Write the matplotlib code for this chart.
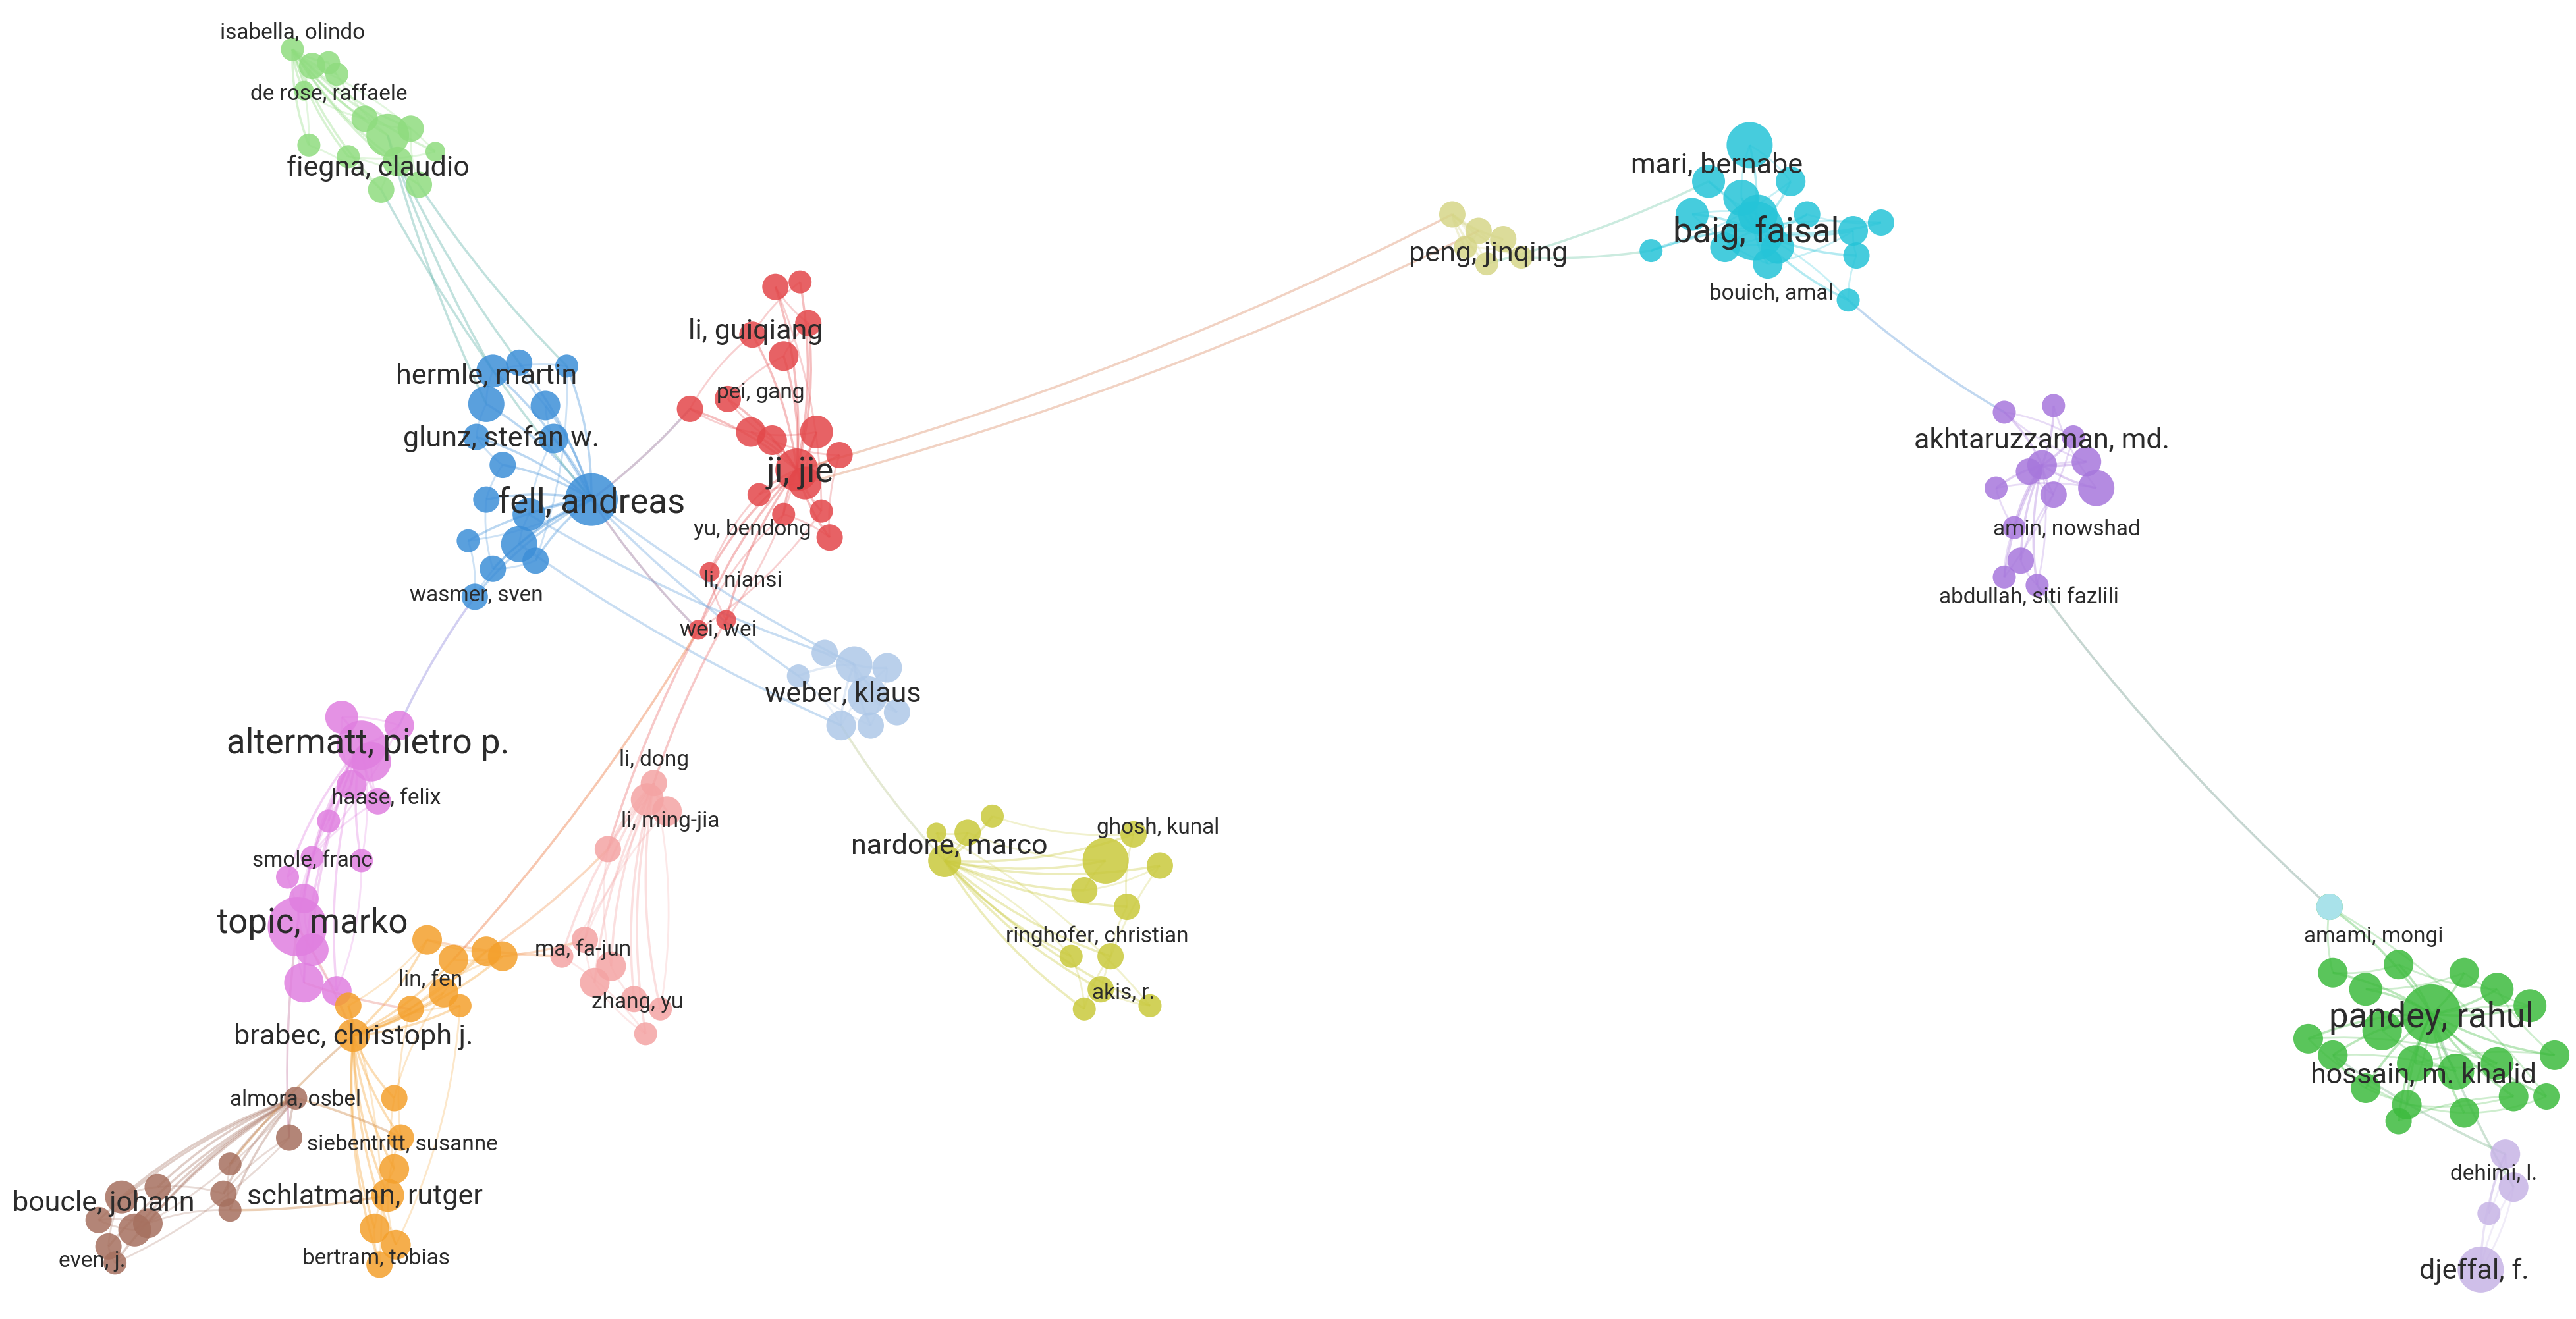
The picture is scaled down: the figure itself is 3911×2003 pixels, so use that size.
import numpy as np
import matplotlib.pyplot as plt
from matplotlib.path import Path
from matplotlib.patches import PathPatch

plt.rcParams['font.family'] = ['Roboto', 'DejaVu Sans']

# clusters: colour, node x, node y, node radius (px on a 1568x800 canvas)
clusters = {
    'lightgreen': ('#8fdc7f',
                   [178, 190, 200, 185, 205, 222, 236, 250, 242, 255, 232, 212, 188, 265],
                   [30, 40, 38, 55, 45, 72, 82, 78, 98, 112, 115, 95, 88, 92],
                   [7, 8, 7, 6, 7, 8, 13, 8, 9, 8, 8, 7, 7, 6]),
    'blue': ('#3d8fd8',
             [360, 300, 316, 296, 332, 290, 337, 306, 322, 296, 316, 300, 289, 326, 285, 345],
             [303, 225, 220, 245, 246, 265, 266, 282, 312, 303, 330, 345, 362, 340, 328, 222],
             [16, 10, 8, 11, 9, 8, 9, 8, 10, 8, 11, 8, 8, 8, 7, 7]),
    'red': ('#e3474a',
            [485, 472, 487, 492, 458, 477, 420, 443, 457, 470, 497, 511, 490, 505, 462, 477, 432, 425, 442, 500],
            [285, 174, 171, 196, 203, 216, 248, 242, 262, 267, 262, 276, 293, 326, 300, 312, 347, 382, 376, 310],
            [13, 8, 7, 8, 8, 9, 8, 8, 9, 9, 10, 8, 10, 8, 7, 7, 6, 6, 6, 7]),
    'lightblue': ('#aec8e8',
                  [520, 540, 528, 512, 546, 486, 502, 530],
                  [403, 405, 422, 440, 432, 410, 396, 440],
                  [11, 9, 12, 9, 8, 7, 8, 8]),
    'olive': ('#c9c93c',
              [575, 589, 604, 673, 690, 660, 686, 706, 676, 670, 660, 700, 652, 570],
              [522, 505, 495, 522, 506, 540, 550, 525, 580, 600, 612, 610, 580, 505],
              [10, 8, 7, 14, 8, 8, 8, 8, 8, 8, 7, 7, 7, 6]),
    'magenta': ('#e07fe0',
                [220, 208, 226, 214, 230, 200, 190, 185, 181, 190, 185, 205, 175, 220, 243],
                [452, 435, 462, 476, 486, 498, 520, 545, 562, 576, 596, 601, 532, 522, 440],
                [15, 10, 12, 9, 8, 7, 7, 9, 18, 10, 12, 9, 7, 7, 9]),
    'orange': ('#f4a02c',
               [215, 260, 276, 296, 306, 270, 250, 240, 244, 240, 236, 228, 241, 231, 280, 212],
               [628, 570, 582, 577, 580, 602, 612, 666, 690, 709, 725, 745, 755, 767, 610, 610],
               [10, 9, 9, 9, 9, 9, 8, 8, 8, 9, 10, 9, 9, 8, 7, 8]),
    'pink': ('#f4a4a4',
             [398, 394, 406, 370, 356, 372, 362, 386, 393, 402, 342],
             [475, 485, 492, 515, 570, 586, 596, 606, 627, 612, 580],
             [8, 10, 9, 8, 8, 9, 9, 8, 7, 7, 7]),
    'brown': ('#a6705f',
              [180, 176, 140, 136, 140, 96, 90, 74, 60, 66, 82, 70],
              [666, 690, 706, 724, 734, 720, 742, 726, 740, 756, 746, 766],
              [7, 8, 7, 8, 7, 8, 9, 10, 8, 8, 10, 7]),
    'khaki': ('#d6d688',
              [884, 900, 915, 926, 905, 892],
              [130, 140, 145, 156, 160, 150],
              [8, 8, 8, 7, 7, 7]),
    'cyan': ('#25c4d8',
             [1068, 1065, 1040, 1060, 1070, 1082, 1030, 1050, 1076, 1100, 1128, 1145, 1130, 1005, 1125, 1090],
             [140, 88, 110, 120, 130, 150, 130, 150, 160, 130, 140, 135, 155, 152, 182, 110],
             [18, 14, 10, 11, 12, 10, 10, 9, 9, 8, 9, 8, 8, 7, 7, 9]),
    'purple': ('#a777dc',
               [1243, 1220, 1250, 1270, 1276, 1235, 1215, 1250, 1226, 1230, 1220, 1240, 1262],
               [282, 250, 246, 280, 296, 286, 296, 300, 320, 340, 350, 355, 265],
               [9, 7, 7, 9, 11, 8, 7, 8, 7, 8, 7, 7, 7]),
    'green': ('#3dbb3e',
              [1480, 1420, 1440, 1460, 1500, 1520, 1540, 1555, 1450, 1470, 1495, 1520, 1420, 1405, 1440, 1465, 1500, 1530, 1550, 1460, 1418],
              [615, 590, 600, 585, 590, 600, 610, 640, 625, 645, 650, 645, 640, 630, 660, 670, 675, 665, 665, 680, 550],
              [18, 9, 10, 9, 9, 10, 10, 9, 12, 11, 11, 10, 9, 9, 9, 9, 9, 9, 8, 8, 8]),
    'lavender': ('#c7b4e6',
                 [1525, 1530, 1515, 1510],
                 [700, 720, 736, 770],
                 [9, 9, 7, 14]),
}

# links between clusters: (cluster, node index, cluster, node index)
inter_links = [
    ('lightgreen', 6, 'blue', 1), ('lightgreen', 9, 'blue', 15), ('lightgreen', 8, 'blue', 2),
    ('lightgreen', 6, 'blue', 3), ('lightgreen', 10, 'blue', 0),
    ('blue', 0, 'red', 6), ('blue', 0, 'lightblue', 0), ('blue', 0, 'lightblue', 5),
    ('blue', 8, 'lightblue', 6), ('blue', 10, 'lightblue', 3), ('blue', 0, 'red', 17),
    ('blue', 12, 'magenta', 14), ('red', 0, 'khaki', 0), ('red', 12, 'khaki', 1),
    ('khaki', 3, 'cyan', 13), ('khaki', 4, 'cyan', 2), ('cyan', 14, 'purple', 1),
    ('purple', 11, 'green', 20), ('green', 12, 'lavender', 0),
    ('green', 0, 'lavender', 1), ('lightblue', 3, 'olive', 0), ('red', 17, 'pink', 3),
    ('red', 18, 'pink', 0), ('orange', 3, 'pink', 3), ('orange', 4, 'pink', 4),
    ('orange', 1, 'pink', 10), ('orange', 0, 'brown', 2), ('orange', 8, 'brown', 0),
    ('orange', 0, 'magenta', 8), ('magenta', 10, 'orange', 6), ('brown', 4, 'orange', 10),
    ('orange', 2, 'red', 17), ('magenta', 8, 'brown', 1),
]

# labels: text, x, y, size class (2 = largest)
labels = [
    ('isabella, olindo', 178, 20, 0), ('de rose, raffaele', 200, 57, 0), ('fiegna, claudio', 230, 102, 1),
    ('hermle, martin', 296, 228, 1), ('glunz, stefan w.', 305, 266, 1), ('fell, andreas', 360, 305, 2),
    ('wasmer, sven', 290, 361, 0), ('li, guiqiang', 460, 201, 1), ('pei, gang', 463, 238, 0),
    ('ji, jie', 487, 287, 2), ('yu, bendong', 458, 321, 0), ('li, niansi', 452, 352, 0), ('wei, wei', 437, 382, 0),
    ('weber, klaus', 513, 421, 1), ('altermatt, pietro p.', 224, 451, 2), ('haase, felix', 235, 484, 0),
    ('smole, franc', 190, 522, 0), ('topic, marko', 190, 560, 2), ('li, dong', 398, 461, 0),
    ('li, ming-jia', 408, 498, 0), ('nardone, marco', 578, 513, 1), ('ghosh, kunal', 705, 502, 0),
    ('ringhofer, christian', 668, 568, 0), ('akis, r.', 684, 602, 0), ('ma, fa-jun', 355, 576, 0),
    ('lin, fen', 262, 594, 0), ('zhang, yu', 388, 608, 0), ('brabec, christoph j.', 215, 629, 1),
    ('almora, osbel', 180, 667, 0), ('siebentritt, susanne', 245, 694, 0), ('schlatmann, rutger', 222, 726, 1),
    ('boucle, johann', 63, 730, 1), ('bertram, tobias', 229, 763, 0), ('even, j.', 56, 765, 0),
    ('peng, jinqing', 906, 154, 1), ('mari, bernabe', 1045, 100, 1), ('baig, faisal', 1069, 141, 2),
    ('bouich, amal', 1078, 178, 0), ('akhtaruzzaman, md.', 1243, 267, 1), ('amin, nowshad', 1258, 321, 0),
    ('abdullah, siti fazlili', 1235, 362, 0), ('amami, mongi', 1445, 568, 0), ('pandey, rahul', 1480, 617, 2),
    ('hossain, m. khalid', 1475, 652, 1), ('dehimi, l.', 1518, 712, 0), ('djeffal, f.', 1506, 771, 1),
]

fig = plt.figure(figsize=(39.11, 20.03), dpi=100)
ax = fig.add_axes([0, 0, 1, 1])
ax.set_xlim(0, 1568)
ax.set_ylim(800, 0)
ax.axis('off')


def curve(ax, p, q, color, alpha, lw, bend=0.15):
    p, q = np.array(p, float), np.array(q, float)
    mid = (p + q) / 2
    d = q - p
    ctrl = mid + bend * np.array([-d[1], d[0]])
    path = Path([p, ctrl, q], [Path.MOVETO, Path.CURVE3, Path.CURVE3])
    ax.add_patch(PathPatch(path, fc='none', ec=color, alpha=alpha, lw=lw, zorder=1))


def mix(c1, c2):
    a = np.array([int(c1[i:i + 2], 16) for i in (1, 3, 5)])
    b = np.array([int(c2[i:i + 2], 16) for i in (1, 3, 5)])
    return tuple(((a + b) / 2) / 255)


# edges inside clusters: every node to the hub and to a neighbour
for name, (col, xs, ys, rs) in clusters.items():
    n = len(xs)
    for i in range(1, n):
        curve(ax, (xs[0], ys[0]), (xs[i], ys[i]), col, 0.35, 2.5, 0.1)
        j = (i + 2) % n
        curve(ax, (xs[i], ys[i]), (xs[j], ys[j]), col, 0.25, 2, 0.1)

for c1, i1, c2, i2 in inter_links:
    a, b = clusters[c1], clusters[c2]
    curve(ax, (a[1][i1], a[2][i1]), (b[1][i2], b[2][i2]), mix(a[0], b[0]), 0.4, 2.5, 0.05)

for name, (col, xs, ys, rs) in clusters.items():
    s = (np.array(rs) * 2 * 1.8) ** 2
    ax.scatter(xs, ys, s=s, c=col, alpha=0.85, edgecolors='none', zorder=2)
    if name == 'green':
        ax.scatter(xs[-1:], ys[-1:], s=s[-1:], c='#a9e2ea', edgecolors='none', zorder=2)

sizes = {0: 24, 1: 31, 2: 38}
for text, x, y, k in labels:
    ax.text(x, y, text, fontsize=sizes[k], color='#2b2b2b', ha='center', va='center', zorder=3)

fig.savefig('out.png', dpi=100, facecolor='white')
